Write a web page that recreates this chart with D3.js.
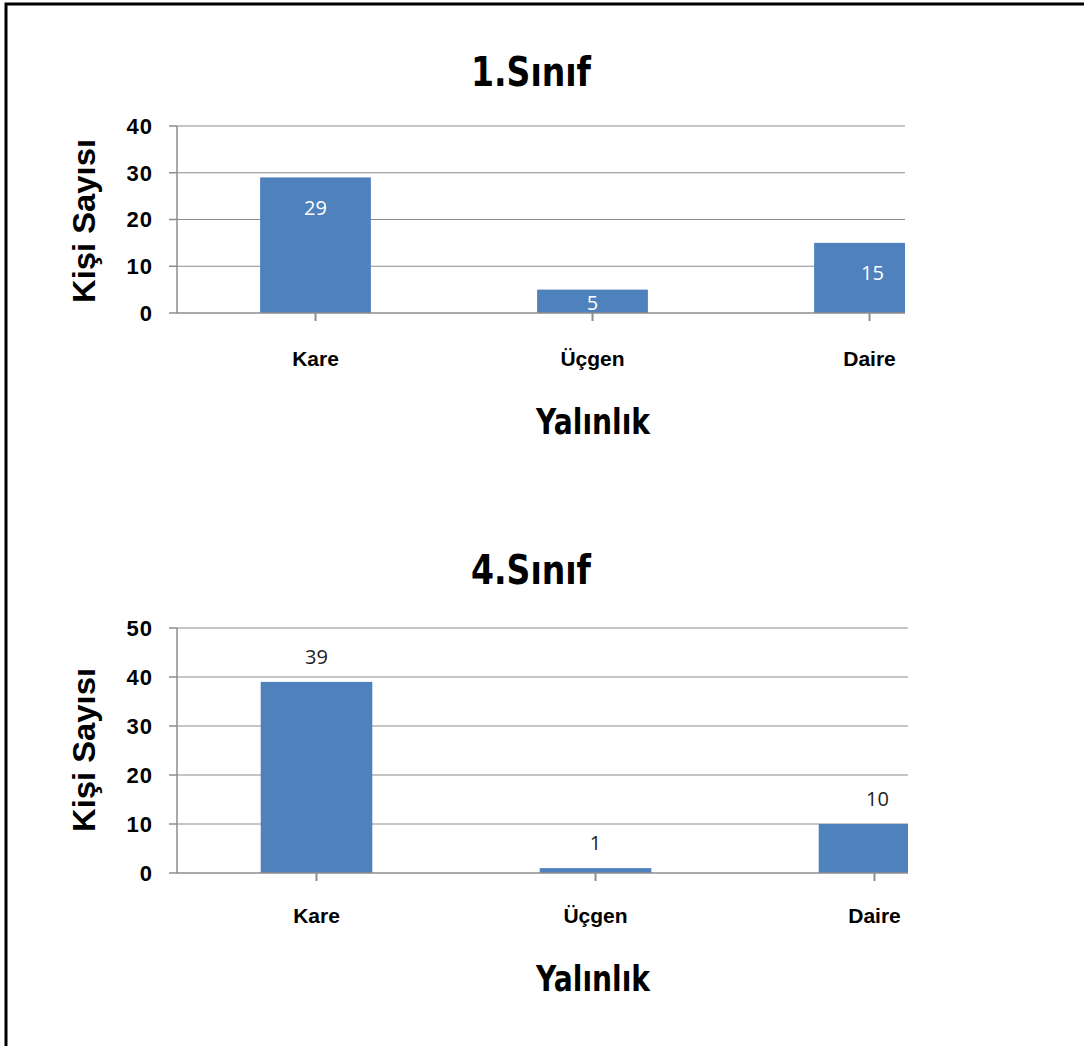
<!DOCTYPE html>
<html><head><meta charset="utf-8">
<script src="https://cdn.jsdelivr.net/npm/d3@7"></script>
<style>
html,body{margin:0;padding:0;background:#fff;}
svg{display:block;}
</style></head>
<body>
<script>
const categories = ["Kare", "Üçgen", "Daire"];
const values1 = [29, 5, 15];
const values4 = [39, 1, 10];
const ticks1 = [0, 10, 20, 30, 40];
const ticks4 = [0, 10, 20, 30, 40, 50];
const titles = ["1.Sınıf", "4.Sınıf"];
const xTitle = "Yalınlık";
const yTitle = "Kişi Sayısı";

const W = 1084, H = 1046;
const svg = d3.select("body").append("svg").attr("width", W).attr("height", H);
svg.append("rect").attr("width", W).attr("height", H).attr("fill", "#fff");
// frame (top + left only visible)
svg.append("path").attr("d", `M6,${H} L6,4 L${W},4`).attr("fill", "none").attr("stroke", "#000").attr("stroke-width", 3);

const bodyFont = "'Liberation Sans','Open Sans',sans-serif";
const headFont = "'DejaVu Sans','Liberation Sans',sans-serif";

function chart(cfg) {
  const g = svg.append("g");
  const y = d3.scaleLinear().domain([0, cfg.max]).range([cfg.y0, cfg.yTop]);
  const x = d3.scaleBand().domain(categories).range([177, 177 + cfg.band * 3]).paddingInner(0.6).paddingOuter(0.3);
  const clipId = "clip" + cfg.id;
  svg.append("clipPath").attr("id", clipId).append("rect")
    .attr("x", 150).attr("y", cfg.yTop - 40).attr("width", cfg.clipX - 150).attr("height", cfg.y0 - cfg.yTop + 60);
  const pg = g.append("g").attr("clip-path", `url(#${clipId})`);

  // gridlines
  pg.selectAll("line.grid").data(cfg.ticks.filter(t => t > 0)).join("line")
    .attr("x1", 177).attr("x2", 1100)
    .attr("y1", d => y(d)).attr("y2", d => y(d))
    .attr("stroke", "#8c8c8c").attr("stroke-width", 1.2);

  // bars
  pg.selectAll("rect.bar").data(cfg.values).join("rect")
    .attr("x", (d, i) => x(categories[i]))
    .attr("width", x.bandwidth())
    .attr("y", d => y(d))
    .attr("height", d => y(0) - y(d))
    .attr("fill", "#4f81bd");

  // baseline
  pg.append("line").attr("x1", 177).attr("x2", 1100).attr("y1", y(0)).attr("y2", y(0))
    .attr("stroke", "#8c8c8c").attr("stroke-width", 1.5);
  // category ticks
  pg.selectAll("line.ct").data(categories).join("line")
    .attr("x1", d => x(d) + x.bandwidth() / 2).attr("x2", d => x(d) + x.bandwidth() / 2)
    .attr("y1", y(0)).attr("y2", y(0) + 8)
    .attr("stroke", "#8c8c8c").attr("stroke-width", 2);

  // y axis
  g.append("line").attr("x1", 177).attr("x2", 177).attr("y1", cfg.yTop).attr("y2", y(0))
    .attr("stroke", "#8c8c8c").attr("stroke-width", 1.5);
  g.selectAll("line.yt").data(cfg.ticks).join("line")
    .attr("x1", 169).attr("x2", 177).attr("y1", d => y(d)).attr("y2", d => y(d))
    .attr("stroke", "#8c8c8c").attr("stroke-width", 1.5);
  g.selectAll("text.yl").data(cfg.ticks).join("text")
    .attr("x", 153).attr("y", d => y(d)).attr("dy", "0.36em")
    .attr("text-anchor", "end").attr("font-family", bodyFont).attr("font-weight", "bold")
    .attr("font-size", 22).attr("letter-spacing", 1).attr("fill", "#000").text(d => d);

  // category labels
  g.selectAll("text.cl").data(categories).join("text")
    .attr("x", d => x(d) + x.bandwidth() / 2).attr("y", cfg.catY).attr("dy", "0.36em")
    .attr("text-anchor", "middle").attr("font-family", bodyFont).attr("font-weight", "bold")
    .attr("font-size", 21).attr("fill", "#000").text(d => d);

  // value labels
  g.selectAll("text.vl").data(cfg.values).join("text")
    .attr("x", (d, i) => x(categories[i]) + x.bandwidth() / 2 + (i === 2 ? 3 : 0))
    .attr("y", (d, i) => cfg.inside ? Math.min(y(d) + 30, y(0) - 10) : y(d) - 25)
    .attr("dy", "0.36em").attr("text-anchor", "middle")
    .attr("font-family", "'Open Sans',sans-serif").attr("font-size", 20)
    .attr("fill", cfg.inside ? "#fff" : "#222").text(d => d);

  // title
  g.append("text").attr("x", 531).attr("y", cfg.titleY).attr("dy", "0.36em")
    .attr("text-anchor", "middle").attr("font-family", headFont).attr("font-weight", "bold")
    .attr("font-size", 40).attr("textLength", 120).attr("lengthAdjust", "spacingAndGlyphs")
    .attr("fill", "#000").text(cfg.title);
  // x title
  g.append("text").attr("x", 593).attr("y", cfg.xtY).attr("dy", "0.36em")
    .attr("text-anchor", "middle").attr("font-family", headFont).attr("font-weight", "bold")
    .attr("font-size", 36).attr("textLength", 114).attr("lengthAdjust", "spacingAndGlyphs")
    .attr("fill", "#000").text(xTitle);
  // y title
  g.append("text").attr("transform", `translate(83,${cfg.ytY}) rotate(-90)`).attr("dy", "0.36em")
    .attr("text-anchor", "middle").attr("font-family", bodyFont).attr("font-weight", "bold")
    .attr("font-size", 32).attr("textLength", 164).attr("lengthAdjust", "spacingAndGlyphs")
    .attr("fill", "#000").text(yTitle);
}

chart({id: 1, values: values1, ticks: ticks1, max: 40, y0: 313, yTop: 126, band: 277, clipX: 905,
  catY: 358, titleY: 72, xtY: 421, ytY: 221, title: titles[0], inside: true});
chart({id: 4, values: values4, ticks: ticks4, max: 50, y0: 873, yTop: 628, band: 279, clipX: 908,
  catY: 915, titleY: 570, xtY: 978, ytY: 750, title: titles[1], inside: false});
</script>
</body></html>
